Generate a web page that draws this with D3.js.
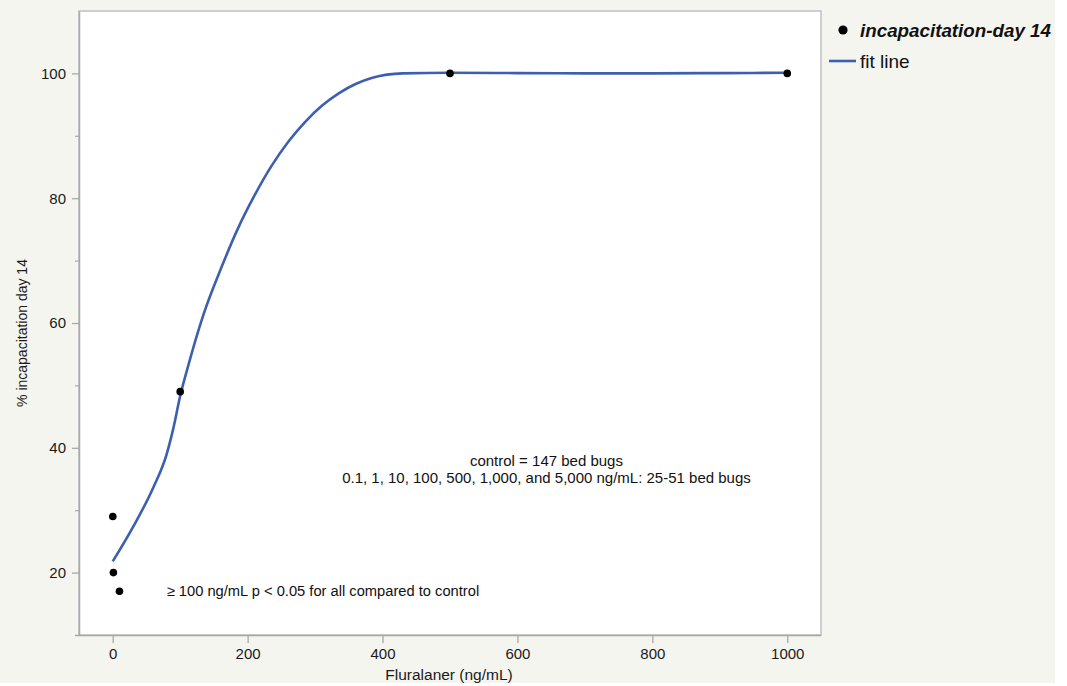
<!DOCTYPE html>
<html>
<head>
<meta charset="utf-8">
<script src="https://cdn.jsdelivr.net/npm/d3@7"></script>
<style>
  html, body { margin: 0; padding: 0; background: #ffffff; }
  svg { display: block; }
  text { font-family: "Liberation Sans", Arial, Helvetica, sans-serif; }
</style>
</head>
<body>
<svg id="chart" width="1067" height="686"></svg>
<script>
// ---- data ----
const pointX = [0.1, 1, 10, 100, 500, 1000];
const pointY = [29, 20, 17, 49, 100, 100];

const fitX = [0, 30, 60, 80, 90, 100, 110, 135, 160, 185, 210, 235, 260, 285, 310, 335, 360, 385, 430, 500, 600, 700, 800, 900, 1000];
const fitY = [21.8, 27.3, 33.6, 39.0, 43.2, 48.3, 52.4, 61.5, 68.6, 75.0, 80.4, 85.1, 89.0, 92.2, 94.8, 96.8, 98.3, 99.3, 100.0, 100.1, 100.05, 100.0, 100.0, 100.05, 100.1];

const xTicks = [0, 200, 400, 600, 800, 1000];
const yTicks = [20, 40, 60, 80, 100];
const yMinorTicks = [30, 50, 70, 90];

const legendLabels = ["incapacitation-day 14", "fit line"];
const xTitle = "Fluralaner (ng/mL)";
const yTitle = "% incapacitation day 14";
const notes = [
  { x: 643, y: 37.9, text: "control = 147 bed bugs", anchor: "middle" },
  { x: 643, y: 35.2, text: "0.1, 1, 10, 100, 500, 1,000, and 5,000 ng/mL: 25-51 bed bugs", anchor: "middle" },
  { x: 80, y: 17.1, text: "\u2265 100 ng/mL p < 0.05 for all compared to control", anchor: "start" }
];

// ---- layout ----
const svg = d3.select("#chart");
const plot = { left: 79, right: 821, top: 11, bottom: 635 };
const blue = "#3d5fb0";
const axisGray = "#a8a8a8";

svg.append("rect").attr("x", 0).attr("y", 0).attr("width", 1055).attr("height", 683).attr("fill", "#f5f5f0");

const x = d3.scaleLinear().domain([-50, 1050]).range([plot.left, plot.right]);
const y = d3.scaleLinear().domain([10, 110]).range([plot.bottom, plot.top]);

// plot area
svg.append("rect")
  .attr("x", plot.left).attr("y", plot.top)
  .attr("width", plot.right - plot.left).attr("height", plot.bottom - plot.top)
  .attr("fill", "#ffffff").attr("stroke", "#c0c0c0").attr("stroke-width", 1.5);

// x axis
const xAxis = svg.append("g").attr("transform", `translate(0,${plot.bottom})`)
  .call(d3.axisBottom(x).tickValues(xTicks).tickFormat(d3.format("d")).tickSizeInner(8).tickSizeOuter(0).tickPadding(5));
xAxis.select(".domain").attr("stroke", axisGray).attr("stroke-width", 1.5)
  .attr("d", `M${plot.left - 4},0.5H${plot.right}`);
xAxis.selectAll(".tick line").attr("stroke", axisGray).attr("stroke-width", 1.3);
xAxis.selectAll(".tick text").attr("fill", "#1a1a1a").style("font-size", "15px");

// y axis
const yAxis = svg.append("g").attr("transform", `translate(${plot.left},0)`)
  .call(d3.axisLeft(y).tickValues(yTicks).tickFormat(d3.format("d")).tickSizeInner(7).tickSizeOuter(0).tickPadding(6));
yAxis.select(".domain").attr("stroke", axisGray).attr("stroke-width", 1.5);
yAxis.selectAll(".tick line").attr("stroke", axisGray).attr("stroke-width", 1.3);
yAxis.selectAll(".tick text").attr("fill", "#1a1a1a").style("font-size", "15px");

const yMinor = svg.append("g").attr("transform", `translate(${plot.left},0)`)
  .call(d3.axisLeft(y).tickValues(yMinorTicks).tickFormat("").tickSizeInner(4).tickSizeOuter(0));
yMinor.select(".domain").remove();
yMinor.selectAll(".tick line").attr("stroke", axisGray).attr("stroke-width", 1.2);

// axis titles
svg.append("text").attr("x", 449).attr("y", 680)
  .attr("text-anchor", "middle").attr("fill", "#1a1a1a").style("font-size", "15.5px").text(xTitle);
svg.append("text").attr("transform", `translate(27,333) rotate(-90)`)
  .attr("text-anchor", "middle").attr("fill", "#1a1a1a").style("font-size", "14px").text(yTitle);

// fit line
const fitData = fitX.map((d, i) => [d, fitY[i]]);
svg.append("path").datum(fitData)
  .attr("fill", "none").attr("stroke", blue).attr("stroke-width", 2.6)
  .attr("d", d3.line().x(d => x(d[0])).y(d => y(d[1])).curve(d3.curveMonotoneX));

// points
const pts = pointX.map((d, i) => [d, pointY[i]]);
svg.append("g").selectAll("circle").data(pts).join("circle")
  .attr("cx", d => x(d[0])).attr("cy", d => y(d[1])).attr("r", 3.8).attr("fill", "#000");

// notes
svg.append("g").selectAll("text").data(notes).join("text")
  .attr("x", d => x(d.x)).attr("y", d => y(d.y) + 5)
  .attr("text-anchor", d => d.anchor)
  .attr("fill", "#111").style("font-size", d => d.anchor === "start" ? "14.7px" : "15px").text(d => d.text);

// legend
const lg = svg.append("g");
lg.append("circle").attr("cx", 843).attr("cy", 30).attr("r", 4.6).attr("fill", "#000");
lg.append("text").attr("x", 860).attr("y", 37).attr("fill", "#111")
  .style("font-size", "18.8px").style("font-weight", "bold").style("font-style", "italic").text(legendLabels[0]);
lg.append("line").attr("x1", 829).attr("x2", 856).attr("y1", 61).attr("y2", 61)
  .attr("stroke", blue).attr("stroke-width", 2.6);
lg.append("text").attr("x", 860).attr("y", 67.5).attr("fill", "#111")
  .style("font-size", "19px").text(legendLabels[1]);
</script>
</body>
</html>
